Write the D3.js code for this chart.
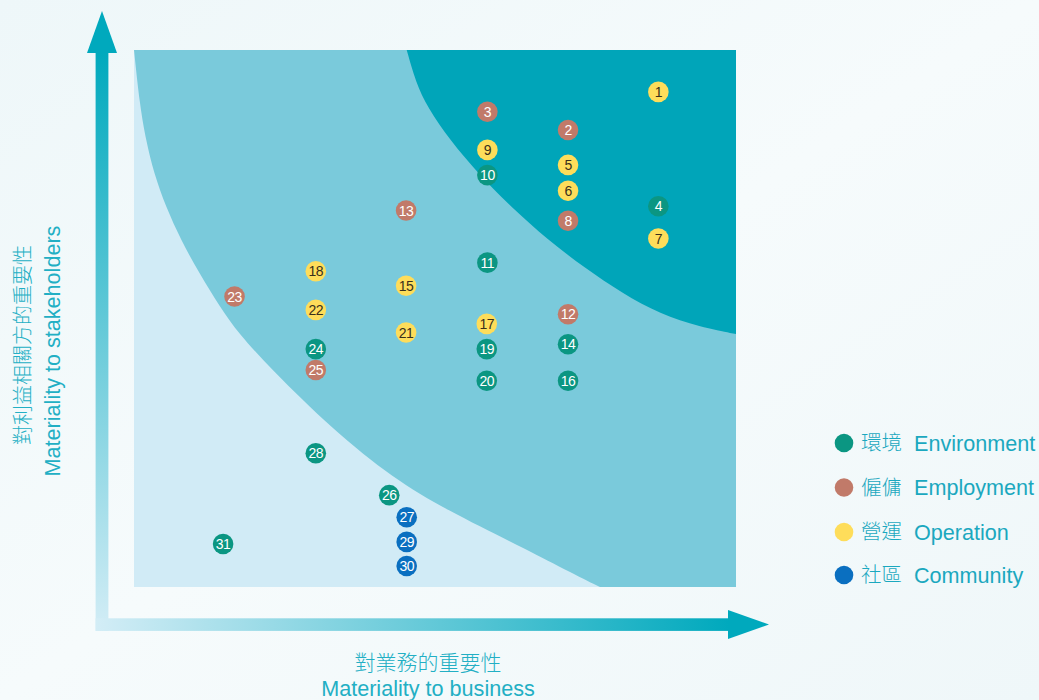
<!DOCTYPE html>
<html>
<head>
<meta charset="utf-8">
<script src="https://cdn.jsdelivr.net/npm/d3@7"></script>
<style>
  html, body { margin: 0; padding: 0; background: #f3f9fa; }
  svg text { font-family: "Liberation Sans", Arial, "Noto Sans CJK TC", sans-serif; }
</style>
</head>
<body>
<div id="chart"></div>
<script>
// materiality matrix, values in 0-100 units on both axes
var pointIds = [1, 2, 3, 4, 5, 6, 7, 8, 9, 10, 11, 12, 13, 14, 15, 16, 17, 18, 19, 20, 21, 22, 23, 24, 25, 26, 27, 28, 29, 30, 31];
var bizScore = [87.1, 72.1, 58.7, 87.1, 72.1, 72.1, 87.1, 72.1, 58.7, 58.7, 58.7, 72.1, 45.2, 72.1, 45.2, 72.1, 58.6, 30.2, 58.6, 58.6, 45.2, 30.2, 16.7, 30.2, 30.2, 42.4, 45.3, 30.2, 45.3, 45.3, 14.8];
var stakeScore = [92.2, 85.1, 88.5, 70.9, 78.6, 73.8, 64.9, 68.2, 81.4, 76.7, 60.4, 50.8, 70.1, 45.2, 56.1, 38.4, 49.0, 58.8, 44.3, 38.4, 47.4, 51.6, 54.1, 44.3, 40.4, 17.1, 13.0, 24.9, 8.4, 3.9, 8.0];
var pointCat = [2, 1, 1, 0, 2, 2, 2, 1, 2, 0, 0, 1, 1, 0, 2, 0, 2, 2, 0, 0, 2, 2, 1, 0, 1, 0, 3, 0, 3, 3, 0];

var catZh = ["環境", "僱傭", "營運", "社區"];
var catEn = ["Environment", "Employment", "Operation", "Community"];
var catColor = ["#0b9682", "#c17a69", "#fedd5a", "#0a6fc0"];
var catText = ["#ffffff", "#ffffff", "#3a301c", "#ffffff"];

// zone boundaries (same units)
var midEdge = [[0, 100], [1.0, 89.4], [2.0, 83.2], [3.3, 77.1], [5.3, 70.8], [7.8, 64.6], [10.8, 58.5], [14.3, 52.1], [17.3, 47.3], [22.6, 40.8], [33.1, 29.2], [43.0, 20.3], [52.0, 14.3], [63.0, 8.2], [70.8, 3.7], [77.4, 0]];
var topEdge = [[45.3, 100], [46.8, 94.0], [48.8, 89.2], [52.5, 83.2], [57.1, 77.1], [62.6, 70.8], [68.8, 64.6], [74.9, 59.4], [81.1, 54.7], [87.4, 50.8], [94.0, 48.4], [100, 47.1]];

var width = 1039, height = 700;

var svg = d3.select("#chart").append("svg")
    .attr("width", width)
    .attr("height", height);

var defs = svg.append("defs");
var gv = defs.append("linearGradient").attr("id", "gv")
    .attr("x1", 0).attr("y1", 1).attr("x2", 0).attr("y2", 0);
gv.append("stop").attr("offset", "0%").attr("stop-color", "#d3edf6");
gv.append("stop").attr("offset", "100%").attr("stop-color", "#00a9bd");
var gh = defs.append("linearGradient").attr("id", "gh")
    .attr("x1", 0).attr("y1", 0).attr("x2", 1).attr("y2", 0);
gh.append("stop").attr("offset", "0%").attr("stop-color", "#d3edf6");
gh.append("stop").attr("offset", "100%").attr("stop-color", "#00a9bd");
var gbg = defs.append("linearGradient").attr("id", "gbg")
    .attr("x1", 0).attr("y1", 0).attr("x2", 1).attr("y2", 1);
gbg.append("stop").attr("offset", "0%").attr("stop-color", "#eef7f9");
gbg.append("stop").attr("offset", "50%").attr("stop-color", "#f6fbfc");
gbg.append("stop").attr("offset", "100%").attr("stop-color", "#eff7f9");

svg.append("rect").attr("width", width).attr("height", height).attr("fill", "url(#gbg)");

var x = d3.scaleLinear().domain([0, 100]).range([134, 736]);
var y = d3.scaleLinear().domain([0, 100]).range([587, 50]);

var edge = d3.line()
    .x(function(d) { return x(d[0]); })
    .y(function(d) { return y(d[1]); })
    .curve(d3.curveBasis);

// zones
svg.append("rect")
    .attr("x", x(0)).attr("y", y(100))
    .attr("width", x(100) - x(0)).attr("height", y(0) - y(100))
    .attr("fill", "#d1ebf6");

svg.append("path")
    .attr("d", edge(midEdge) + "L" + x(100) + "," + y(0) + "L" + x(100) + "," + y(100) + "Z")
    .attr("fill", "#7acadb");

svg.append("path")
    .attr("d", edge(topEdge) + "L" + x(100) + "," + y(100) + "Z")
    .attr("fill", "#00a5b9");

// axis arrows
svg.append("rect").attr("x", 95.6).attr("y", 52).attr("width", 12.8).attr("height", 631 - 52)
    .attr("fill", "url(#gv)");
svg.append("path").attr("d", "M87,53L102,11L117,53Z").attr("fill", "#00a9bd");
svg.append("rect").attr("x", 95.6).attr("y", 618.3).attr("width", 729 - 95.6).attr("height", 12.6)
    .attr("fill", "url(#gh)");
svg.append("path").attr("d", "M728,610L769,624.5L728,639Z").attr("fill", "#00a9bd");

// axis titles
svg.append("text").attr("x", 428).attr("y", 670)
    .attr("text-anchor", "middle").attr("fill", "#22afc4")
    .style("font-family", "'Noto Sans CJK TC', sans-serif").style("font-size", "21px").style("font-weight", 300)
    .text("對業務的重要性");
svg.append("text").attr("x", 428).attr("y", 696)
    .attr("text-anchor", "middle").attr("fill", "#22afc4")
    .style("font-size", "21.6px")
    .text("Materiality to business");

svg.append("text").attr("transform", "translate(30,345) rotate(-90)")
    .attr("text-anchor", "middle").attr("fill", "#22afc4")
    .style("font-family", "'Noto Sans CJK TC', sans-serif").style("font-size", "20px").style("font-weight", 300)
    .text("對利益相關方的重要性");
svg.append("text").attr("transform", "translate(60,351) rotate(-90)")
    .attr("text-anchor", "middle").attr("fill", "#22afc4")
    .style("font-size", "21.6px")
    .text("Materiality to stakeholders");

// points
var pts = svg.append("g").selectAll("g")
    .data(pointIds)
    .enter().append("g")
    .attr("transform", function(d, i) { return "translate(" + x(bizScore[i]) + "," + y(stakeScore[i]) + ")"; });

pts.append("circle")
    .attr("r", 10.3)
    .attr("fill", function(d, i) { return catColor[pointCat[i]]; });

pts.append("text")
    .attr("text-anchor", "middle")
    .attr("dy", "0.36em")
    .attr("fill", function(d, i) { return catText[pointCat[i]]; })
    .style("font-size", "14px")
    .style("letter-spacing", "-0.5px")
    .text(function(d) { return d; });

// legend
var legendY = [443, 487.5, 532, 575];
var leg = svg.append("g").selectAll("g")
    .data(catZh)
    .enter().append("g")
    .attr("transform", function(d, i) { return "translate(844," + legendY[i] + ")"; });

leg.append("circle").attr("r", 9.3).attr("fill", function(d, i) { return catColor[i]; });
leg.append("text").attr("x", 17).attr("dy", "0.36em")
    .attr("fill", "#1ba8bf")
    .style("font-family", "'Noto Sans CJK TC', sans-serif").style("font-size", "20.5px").style("font-weight", 300)
    .text(function(d) { return d; });
leg.append("text").attr("x", 70).attr("dy", "0.36em")
    .attr("fill", "#1ba8bf")
    .style("font-size", "21.6px")
    .text(function(d, i) { return catEn[i]; });
</script>
</body>
</html>
